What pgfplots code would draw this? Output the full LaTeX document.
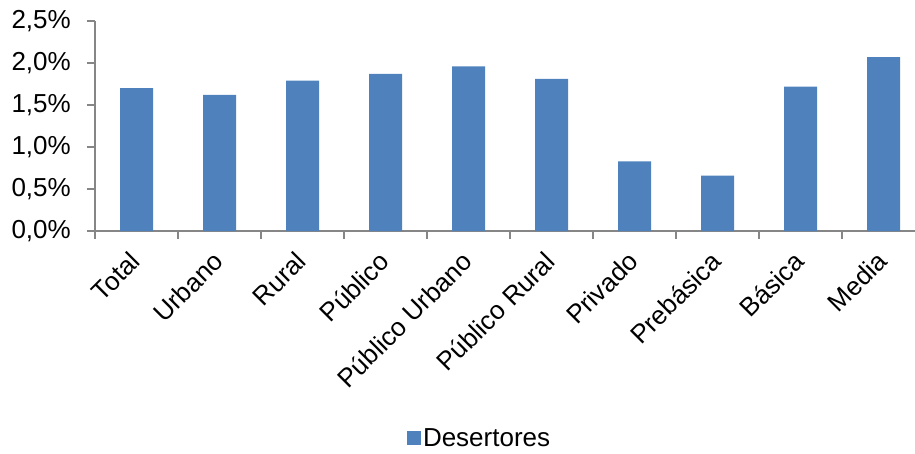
\documentclass[border=0pt]{standalone}
\usepackage{pgfplots}
\pgfplotsset{compat=1.18}
\usepackage{fontspec}
\setmainfont{Liberation Sans}
\definecolor{barblue}{HTML}{4F81BD}
\definecolor{axgray}{HTML}{868686}
\begin{document}
\begin{tikzpicture}
\useasboundingbox (0pt,0pt) rectangle (915pt,-453pt);
\begin{axis}[
  at={(95pt,-231pt)}, anchor=south west,
  scale only axis, width=820pt, height=210pt,
  xmin=-0.5, xmax=9.3795, ymin=0, ymax=2.5,
  axis x line*=bottom, axis y line*=left,
  axis line style={axgray, line width=1.2pt},
  tick align=outside,
  major tick length=8pt, minor tick length=8pt,
  every tick/.style={axgray, line width=1.2pt},
  ytick={0,0.5,...,2.5},
  yticklabel={\pgfmathprintnumber[fixed,fixed zerofill,precision=1,use comma]{\tick}\%},
  xtick={0,...,9},
  major x tick style={draw=none},
  minor xtick={-0.5,0.5,...,9.5},
  xticklabels={Total,Urbano,Rural,Público,Público Urbano,Público Rural,Privado,Prebásica,Básica,Media},
  x tick label style={xshift=-8pt, yshift=-8pt, rotate=45, anchor=north east, inner sep=2pt},
  tick label style={font=\fontsize{26}{31}\selectfont},
  /pgf/number format/assume math mode=true,
  yticklabel style={xshift=-13pt, inner sep=3pt},
  clip=false,
  legend style={at={(0.469,-0.986)}, anchor=center, draw=none, fill=none,
    font=\fontsize{26}{31}\selectfont, inner sep=0pt},
  legend image code/.code={\fill[barblue] (-3pt,-7pt) rectangle (11pt,7pt);},
]
\addplot[ybar, bar width=33pt, fill=barblue, draw=none] coordinates {
  (0,1.70) (1,1.62) (2,1.79) (3,1.87) (4,1.96)
  (5,1.81) (6,0.83) (7,0.66) (8,1.72) (9,2.07)
};
\addlegendentry{Desertores}
\end{axis}
\end{tikzpicture}
\end{document}
